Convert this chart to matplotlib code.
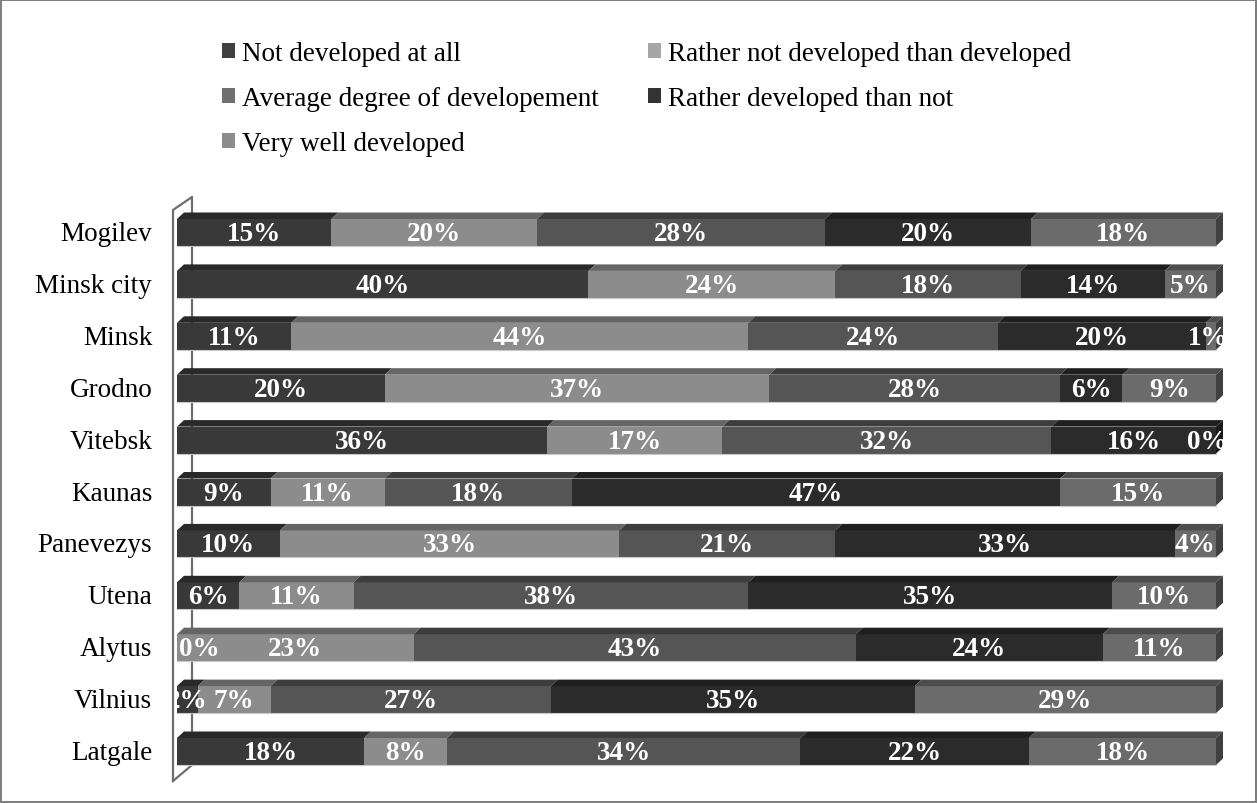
import numpy as np
import matplotlib.pyplot as plt
from matplotlib.patches import Rectangle, Polygon, Patch
from matplotlib.lines import Line2D

plt.rcParams['font.family'] = ['Liberation Serif', 'DejaVu Serif']

# ---------------- data ----------------
regions = ["Mogilev", "Minsk city", "Minsk", "Grodno", "Vitebsk", "Kaunas",
           "Panevezys", "Utena", "Alytus", "Vilnius", "Latgale"]
series = ["Not developed at all", "Rather not developed than developed",
          "Average degree of developement", "Rather developed than not",
          "Very well developed"]

not_developed    = [15, 40, 11, 20, 36, 9, 10, 6, 0, 2, 18]
rather_not       = [20, 24, 44, 37, 17, 11, 33, 11, 23, 7, 8]
average          = [28, 18, 24, 28, 32, 18, 21, 38, 43, 27, 34]
rather_developed = [20, 14, 20, 6, 16, 47, 33, 35, 24, 35, 22]
very_well        = [18, 5, 1, 9, 0, 15, 4, 10, 11, 29, 18]

values = np.array([not_developed, rather_not, average, rather_developed, very_well], dtype=float)

# colours: front face, legend swatch
front_cols  = ["#393939", "#8c8c8c", "#555555", "#2b2b2b", "#6b6b6b"]
legend_cols = ["#404040", "#a6a6a6", "#707070", "#333333", "#8c8c8c"]

def shade(c, k):
    r, g, b = plt.matplotlib.colors.to_rgb(c)
    return (r * k, g * k, b * k)

# ---------------- figure ----------------
W, H = 1257, 804
fig = plt.figure(figsize=(W / 100, H / 100), dpi=100)
fig.patch.set_edgecolor("#7f7f7f")
fig.patch.set_linewidth(1.5)

# plot area in pixels
px_left, px_right = 177, 1226
px_top, px_bot = 200, 782
px_per_pct = 10.39
row0, row_step = 233.5, 51.9

ax = fig.add_axes([px_left / W, 1 - px_bot / H, (px_right - px_left) / W, (px_bot - px_top) / H])
ax.set_facecolor("none")
ax.set_xlim(0, (px_right - px_left) / px_per_pct)
ax.set_ylim((px_bot - row0) / row_step, (px_top - row0) / row_step)
ax.axis("off")

bar_h = 27 / row_step
dx = 7 / px_per_pct
dy = 6.5 / row_step

# left "wall"
wx_front = (173 - px_left) / px_per_pct
wx_back = (192 - px_left) / px_per_pct
wy = lambda p: (p - row0) / row_step
ax.add_line(Line2D([wx_front, wx_front, wx_back, wx_back], [wy(782), wy(211), wy(198), wy(766)],
                   color="#6e6e6e", lw=1.6, clip_on=False, zorder=0))
ax.add_line(Line2D([wx_front, wx_back], [wy(782), wy(766)], color="#6e6e6e", lw=1.6,
                   clip_on=False, zorder=0))

totals = values.sum(axis=0)
for i, reg in enumerate(regions):
    y = i
    top = y - bar_h / 2
    bot = y + bar_h / 2
    shares = values[:, i] / totals[i] * 100
    left = 0.0
    for s in range(len(series)):
        w = shares[s]
        right = left + w
        c = front_cols[s]
        if w > 0:
            ax.add_patch(Rectangle((left, top), w, bar_h, facecolor=c, edgecolor="none", zorder=2))
            ax.add_patch(Polygon([(left, top), (left + dx, top - dy), (right + dx, top - dy), (right, top)],
                                 closed=True, facecolor=shade(c, 0.72), edgecolor="none", zorder=2))
        # label (zero segments at the left edge are pushed inside)
        xc = left + w / 2
        if w == 0 and left == 0:
            xc = 2.1
        xc = min(xc, 99.2)
        ax.text(xc, y + 0.02, f"{values[s, i]:.0f}%", ha="center", va="center", color="white",
                fontsize=19.5, fontweight="bold", clip_on=True, zorder=5)
        left = right
    # right side face of the last visible segment
    last = [s for s in range(len(series)) if shares[s] > 0][-1]
    ax.add_patch(Polygon([(100, top), (100 + dx, top - dy), (100 + dx, bot - dy), (100, bot)],
                         closed=True, facecolor=shade(front_cols[last], 0.6), edgecolor="none", zorder=2))
    ax.add_line(Line2D([0, 100], [bot, bot], color="#c8c8c8", lw=0.8, zorder=3))
    ax.text(wx_front - 2.0, y + 0.02, reg, ha="right", va="center", fontsize=19.5, clip_on=False)

# legend, row-wise order like the original
order = [0, 2, 4, 1, 3]
handles = [Patch(facecolor=legend_cols[k], edgecolor="none") for k in order]
labels = [series[k] for k in order]
fig.legend(handles, labels, ncol=2, loc="upper left", bbox_to_anchor=(222 / W, 1 - 42 / H),
           frameon=False, fontsize=19.5, handlelength=0.48, handleheight=0.48, handletextpad=0.26,
           columnspacing=1.8, labelspacing=0.74, borderpad=0, borderaxespad=0)

fig.savefig("out.png", dpi=100)
